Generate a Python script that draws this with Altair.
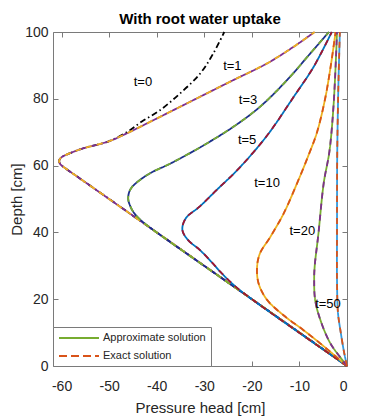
import altair as alt
import pandas as pd

FONT = "Liberation Sans"
AX = "#7a7a7a"
TXT = "#262626"

# ---- data (depth [cm], pressure head [cm]) ----
t0_depth = [0, 20, 40, 56, 59, 60.5, 61.5, 62.5, 63.5, 65.2, 67.2, 70, 73.1, 76.6, 81.6, 87.5, 93.6, 100]
t0_head = [0, -20, -40, -56, -59, -60.3, -60.5, -60, -58.6, -55.4, -50.2, -46.3, -43.2, -39.3, -35.1, -30.9, -28.1, -25.8]

t1_depth = [0, 20, 40, 56, 59, 60.5, 61.5, 62.5, 63.5, 65.2, 67.2, 69.5, 71.6, 76.6, 80.6, 85.6, 90.6, 95.6, 100]
t1_head = [0, -20, -40, -56, -59, -60.3, -60.5, -60, -58.6, -55.4, -50.2, -46.5, -43.5, -36.5, -30.9, -23.9, -16.8, -11.2, -6.8]

t3_depth = [0, 20, 40, 43, 45.5, 48, 50.2, 52.7, 54.7, 57.7, 60.7, 65.7, 71.6, 77.6, 85.6, 93.6, 100]
t3_head = [0, -20, -40, -42.8, -44.6, -45.6, -46, -45.6, -44.4, -41.4, -37, -30.6, -23.9, -18.3, -12.6, -7.7, -3.8]

t5_depth = [0, 20, 24, 28, 31, 34.7, 37.7, 40.7, 44.2, 47.7, 52.7, 59.2, 69, 80.6, 89.6, 100]
t5_head = [0, -20, -23.6, -26.5, -28.4, -30.9, -33.4, -34.6, -33.9, -31, -27.4, -22.7, -16.8, -11.2, -7, -3.2]

t10_depth = [0, 5.8, 10.8, 14.8, 19.8, 24.8, 29.7, 33.7, 38.7, 45.7, 54.7, 62.7, 70, 80, 90, 100]
t10_head = [0, -4.8, -9.2, -13, -16.8, -18.6, -18.9, -18.3, -16.1, -13.3, -10.5, -8.2, -6.3, -4.6, -3.4, -2.4]

t20_depth = [0, 1.3, 6.8, 13.8, 19.8, 25.7, 29.7, 39.7, 54.7, 64.2, 78.6, 100]
t20_head = [0, -0.7, -3.5, -5.6, -6.7, -6.9, -6.8, -6, -4.9, -3.7, -2.8, -2.1]

t50_depth = [0, 4, 10.8, 16, 25.7, 40, 64, 84.6, 100]
t50_head = [0, -0.6, -1.4, -1.9, -2.1, -2.1, -2.05, -1.8, -1.5]

curve_names = ["t=1", "t=3", "t=5", "t=10", "t=20", "t=50"]
curve_depths = [t1_depth, t3_depth, t5_depth, t10_depth, t20_depth, t50_depth]
curve_heads = [t1_head, t3_head, t5_head, t10_head, t20_head, t50_head]

label_text = ["t=0", "t=1", "t=3", "t=5", "t=10", "t=20", "t=50"]
label_head = [-42.9, -24.1, -20.8, -21.0, -16.8, -9.4, -4.0]
label_depth = [85.0, 89.8, 79.6, 67.7, 54.8, 40.4, 18.6]

x_ticks = [-60, -50, -40, -30, -20, -10, 0]
y_ticks = [0, 20, 40, 60, 80, 100]

legend_items = ["Approximate solution", "Exact solution"]

# ---- build tables ----
rows = []
for i, (z, h) in enumerate(zip(t0_depth, t0_head)):
    rows.append({"series": "t=0", "kind": "approx", "depth": z, "head": h, "ord": i})
for name, zs, hs in zip(curve_names, curve_depths, curve_heads):
    for i, (z, h) in enumerate(zip(zs, hs)):
        rows.append({"series": f"{name} approx", "kind": "approx", "depth": z, "head": h, "ord": i})
        rows.append({"series": f"{name} exact", "kind": "exact", "depth": z, "head": h, "ord": i})
df = pd.DataFrame(rows)
labels_df = pd.DataFrame({"text": label_text, "head": label_head, "depth": label_depth})

series_domain = legend_items + ["t=0"] + [f"{n} {k}" for n in curve_names for k in ("approx", "exact")]
series_colors = ["#77AC30", "#D95319", "#000000",
                 "#7E2F8E", "#EDB120",
                 "#1C2F8A", "#77AC30",
                 "#0072BD", "#A2142F",
                 "#EDB120", "#D95319",
                 "#77AC30", "#7E2F8E",
                 "#3399DD", "#D95319"]
solid = [1, 0]
dash = [6, 5]
series_dashes = [solid, [8, 4], [6, 3, 1.5, 3]] + [solid, dash] * len(curve_names)

legend = alt.Legend(
    values=legend_items, orient="bottom-left", offset=0, title=None,
    fillColor="white", strokeColor=AX, padding=5,
    symbolType="M-4,0H4", symbolSize=100, symbolOffset=15, labelOffset=18,
    symbolStrokeWidth=2, labelFont=FONT, labelFontSize=11, labelColor=TXT,
    rowPadding=7,
)
color_enc = alt.Color("series:N", scale=alt.Scale(domain=series_domain, range=series_colors), legend=legend)
dash_enc = alt.StrokeDash("series:N", scale=alt.Scale(domain=series_domain, range=series_dashes), legend=legend)

xscale = alt.Scale(domain=[-61.8, 0], nice=False, zero=False)
yscale = alt.Scale(domain=[0, 100], nice=False, zero=False)

x_axis_main = alt.Axis(values=x_ticks, orient="bottom", offset=-5, tickSize=5, domain=False, grid=False,
                       tickColor=AX, labelFont=FONT, labelFontSize=14, labelColor=TXT, labelPadding=13,
                       labelExpr="'' + datum.value",
                       title="Pressure head [cm]", titleFont=FONT, titleFontSize=15, titleFontWeight="normal",
                       titleColor=TXT, titlePadding=7)
y_axis_main = alt.Axis(values=y_ticks, orient="left", offset=-5, tickSize=5, domain=False, grid=False,
                       tickColor=AX, labelFont=FONT, labelFontSize=14, labelColor=TXT, labelPadding=5,
                       labelExpr="'' + datum.value",
                       title="Depth [cm]", titleFont=FONT, titleFontSize=15, titleFontWeight="normal",
                       titleColor=TXT, titlePadding=0)
x_axis_top = alt.Axis(values=x_ticks, orient="top", offset=-5, tickSize=5, domain=False, grid=False,
                      tickColor=AX, labels=False, title=None)
y_axis_right = alt.Axis(values=y_ticks, orient="right", offset=-5, tickSize=5, domain=False, grid=False,
                        tickColor=AX, labels=False, title=None)

approx = alt.Chart(df).transform_filter(alt.datum.kind == "approx").mark_line(
    strokeWidth=1.8, interpolate="catmull-rom"
).encode(
    x=alt.X("head:Q", scale=xscale, axis=x_axis_main),
    y=alt.Y("depth:Q", scale=yscale, axis=y_axis_main),
    color=color_enc, strokeDash=dash_enc, order=alt.Order("ord:Q"),
)
exact = alt.Chart(df).transform_filter(alt.datum.kind == "exact").mark_line(
    strokeWidth=1.8, interpolate="catmull-rom"
).encode(
    x=alt.X("head:Q", scale=xscale, axis=None),
    y=alt.Y("depth:Q", scale=yscale, axis=None),
    color=color_enc, strokeDash=dash_enc, order=alt.Order("ord:Q"),
)
texts = alt.Chart(labels_df).mark_text(font=FONT, fontSize=13, color="black").encode(
    x=alt.X("head:Q", scale=xscale, axis=x_axis_top),
    y=alt.Y("depth:Q", scale=yscale, axis=y_axis_right),
    text="text:N",
)

chart = alt.layer(approx, exact, texts).resolve_axis(x="independent", y="independent").properties(
    width=294, height=334,
    title=alt.TitleParams("With root water uptake", font=FONT, fontSize=15, fontWeight="bold",
                          color="black", anchor="middle", offset=-2),
    autosize=alt.AutoSizeParams(type="none"),
    padding={"left": 45, "top": 24, "right": 20, "bottom": 50},
).configure_view(stroke=AX, strokeWidth=1)

chart.save("out.html", embed_options={"renderer": "svg", "actions": False})
